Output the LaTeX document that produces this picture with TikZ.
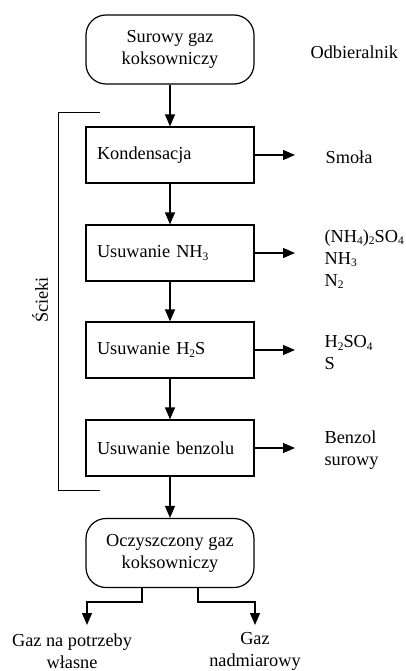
\documentclass[tikz,border=0pt]{standalone}
\usepackage{fontspec}
\setmainfont{Liberation Serif}
\usetikzlibrary{arrows.meta}
\newcommand\mysub[1]{\raisebox{-0.3ex}{\fontsize{11.5}{11.5}\selectfont #1}}
\begin{document}
\begin{tikzpicture}[x=1pt,y=-1pt,
  font=\fontsize{18.3}{22}\selectfont,
  line width=1.2pt,
  >={Triangle[length=12pt,width=10pt]},
  proc/.style={draw, minimum width=168pt, minimum height=56pt, text width=146pt, inner xsep=11pt, align=left},
  term/.style={draw, rounded corners=20pt, minimum width=168pt, minimum height=69pt, align=center},
  lab/.style={anchor=west, align=left, inner sep=0pt},
  bracket/.style={line width=1pt}]
\useasboundingbox (0,0) rectangle (406,671);
\node[term] (raw) at (170,49.5) {Surowy gaz\\koksowniczy};
\node[lab] (odb) at (310,52) {Odbieralnik};
\node[proc] (kond) at (170,155) {Kondensacja};
\node[proc] (nh3) at (170,253) {Usuwanie NH\mysub{3}};
\node[proc] (h2s) at (170,350) {Usuwanie H\mysub{2}S};
\node[proc] (benz) at (170,448) {Usuwanie benzolu};
\node[term] (clean) at (170,553) {Oczyszczony gaz\\koksowniczy};
\draw[->] (raw) -- (kond);
\draw[->] (kond) -- (nh3);
\draw[->] (nh3) -- (h2s);
\draw[->] (h2s) -- (benz);
\draw[->] (benz) -- (clean);
\coordinate (k1) at (295,155);
\coordinate (n1) at (295,253);
\coordinate (h1) at (295,350);
\coordinate (b1) at (295,448);
\draw[->] (kond) -- (k1);
\draw[->] (nh3) -- (n1);
\draw[->] (h2s) -- (h1);
\draw[->] (benz) -- (b1);
\node[lab] (smola) at (325,157) {Smoła};
\node[lab] (nh3out) at (324,259) {(NH\mysub{4})\mysub{2}SO\mysub{4}\\NH\mysub{3}\\N\mysub{2}};
\node[lab] (h2sout) at (324,353) {H\mysub{2}SO\mysub{4}\\S};
\node[lab] (benzout) at (324,450) {Benzol\\surowy};
\coordinate (bt) at (100,113);
\coordinate (btl) at (58,113);
\coordinate (bbl) at (58,490);
\coordinate (bb) at (100,490);
\draw[bracket] (bt) -- (btl) -- (bbl) -- (bb);
\node[rotate=90] (scieki) at (40,300) {Ścieki};
\coordinate (l1) at (142,602);
\coordinate (l2) at (87,602);
\coordinate (ltip) at (87,625);
\coordinate (r1) at (198,602);
\coordinate (r2) at (255,602);
\coordinate (rtip) at (255,625);
\draw[->] (clean.south -| l1) -- (l1) -- (l2) -- (ltip);
\draw[->] (clean.south -| r1) -- (r1) -- (r2) -- (rtip);
\node[align=center] (own) at (72,651) {Gaz na potrzeby\\własne};
\node[align=center] (exc) at (255,651) {Gaz\\nadmiarowy};
\end{tikzpicture}
\end{document}
